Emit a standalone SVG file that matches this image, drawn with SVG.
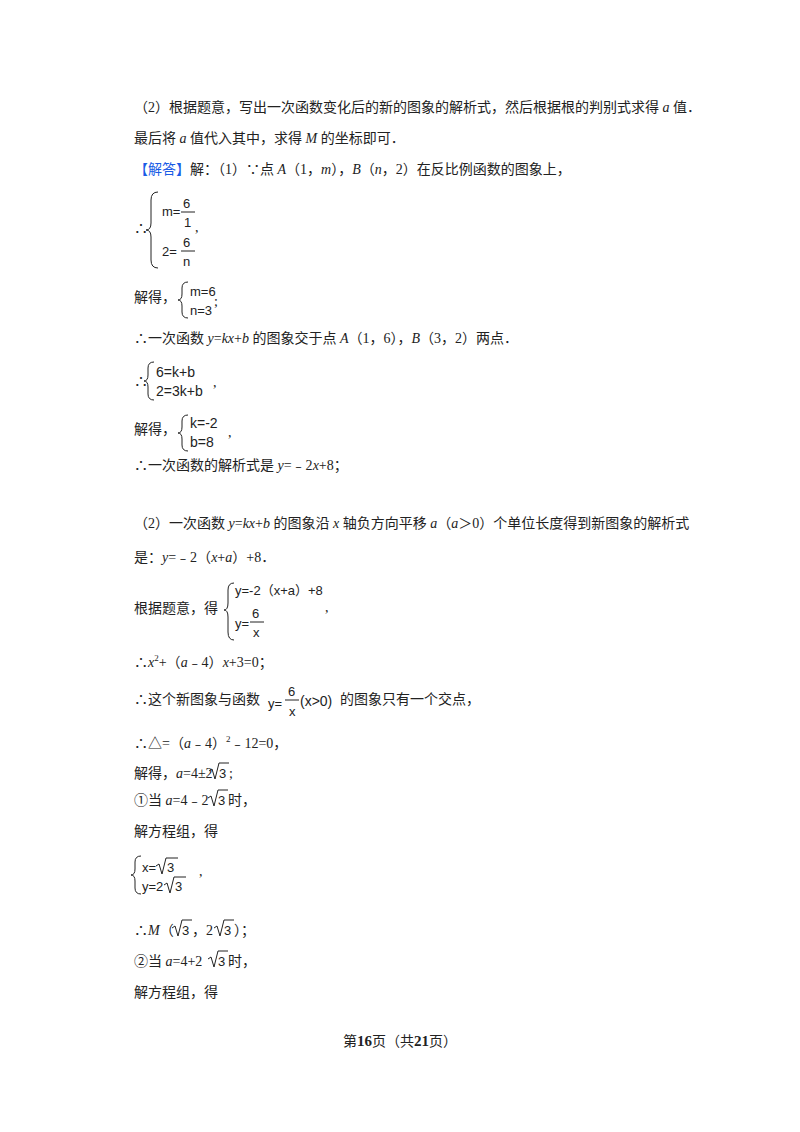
<svg xmlns="http://www.w3.org/2000/svg" width="800" height="1132" viewBox="0 0 800 1132">
<style>
text{font-family:"Liberation Serif","Noto Sans CJK SC",serif;font-size:14px;fill:#222}
.i{font-style:italic}
.m{font-family:"Liberation Sans","Noto Sans CJK SC",sans-serif;font-size:13px}
.m.L{font-size:14px}
.b{fill:#1a5ce6}
.br,.r{fill:none;stroke:#222;stroke-width:1}
</style>
<rect width="800" height="1132" fill="#fff"/>
<text x="134" y="112">（2）根据题意，写出一次函数变化后的新的图象的解析式，然后根据根的判别式求得 <tspan class="i">a</tspan> 值．</text>
<text x="134" y="143">最后将 <tspan class="i">a</tspan> 值代入其中，求得 <tspan class="i">M</tspan> 的坐标即可．</text>
<text x="134" y="174"><tspan class="b">【解答】</tspan>解：（1）∵点 <tspan class="i">A</tspan>（1，<tspan class="i">m</tspan>），<tspan class="i">B</tspan>（<tspan class="i">n</tspan>，2）在反比例函数的图象上，</text>
<g>
<text x="134" y="233">∴</text>
<path class="br" d="M158 192 Q151 192 151 200 L151 223 Q151 230 146 230 Q151 230 151 237 L151 260 Q151 268 158 268"/>
<text class="m" x="162" y="216">m=</text><text class="m" x="183" y="208">6</text><line x1="181" y1="212" x2="195" y2="212" stroke="#222"/><text class="m" x="184" y="227">1</text>
<text x="195" y="232">,</text>
<text class="m" x="162" y="256">2=</text><text class="m" x="183" y="247">6</text><line x1="181" y1="251" x2="195" y2="251" stroke="#222"/><text class="m" x="183" y="266">n</text>
</g>
<g>
<text x="134" y="302">解得，</text>
<path class="br" d="M188 282 Q182 282 182 288 L182 294 Q182 300 178 300 Q182 300 182 306 L182 312 Q182 318 188 318"/>
<text class="m" x="190" y="296">m=6</text><text class="m" x="190" y="315">n=3</text><text x="214" y="306">;</text>
</g>
<text x="134" y="343">∴一次函数 <tspan class="i">y</tspan>=<tspan class="i">kx</tspan>+<tspan class="i">b</tspan> 的图象交于点 <tspan class="i">A</tspan>（1，6），<tspan class="i">B</tspan>（3，2）两点．</text>
<g>
<text x="134" y="386">∴</text>
<path class="br" d="M154 362 Q148 362 148 368 L148 375 Q148 381 144 381 Q148 381 148 387 L148 394 Q148 400 154 400"/>
<text class="m L" x="156" y="377">6=k+b</text><text class="m L" x="156" y="396">2=3k+b</text><text x="213" y="387">,</text>
</g>
<g>
<text x="134" y="434">解得，</text>
<path class="br" d="M188 415 Q182 415 182 421 L182 427 Q182 433 178 433 Q182 433 182 439 L182 445 Q182 451 188 451"/>
<text class="m L" x="190" y="428">k=-2</text><text class="m L" x="190" y="447">b=8</text><text x="228" y="437">,</text>
</g>
<text x="134" y="470">∴一次函数的解析式是 <tspan class="i">y</tspan>=﹣2<tspan class="i">x</tspan>+8；</text>
<text x="134" y="528">（2）一次函数 <tspan class="i">y</tspan>=<tspan class="i">kx</tspan>+<tspan class="i">b</tspan> 的图象沿 <tspan class="i">x</tspan> 轴负方向平移 <tspan class="i">a</tspan>（<tspan class="i">a</tspan>＞0）个单位长度得到新图象的解析式</text>
<text x="134" y="562">是：<tspan class="i">y</tspan>=﹣2（<tspan class="i">x</tspan>+<tspan class="i">a</tspan>）+8．</text>
<g>
<text x="134" y="613">根据题意，得</text>
<path class="br" d="M234 583 Q228 583 228 590 L228 603 Q228 610 224 610 Q228 610 228 617 L228 632 Q228 640 234 640"/>
<text class="m" x="235" y="595">y=-2（x+a）+8</text>
<text class="m" x="235" y="628">y=</text><text class="m" x="252" y="618">6</text><line x1="250" y1="622" x2="264" y2="622" stroke="#222"/><text class="m" x="253" y="637">x</text>
<text x="325" y="612">,</text>
</g>
<text x="134" y="667">∴<tspan class="i">x</tspan><tspan font-size="9" dy="-6">2</tspan><tspan dy="6">+（<tspan class="i">a</tspan>﹣4）<tspan class="i">x</tspan>+3=0；</tspan></text>
<g>
<text x="134" y="704">∴这个新图象与函数</text>
<text class="m" x="268" y="708">y=</text><text class="m" x="288" y="696">6</text><line x1="285" y1="700" x2="299" y2="700" stroke="#222"/><text class="m" x="289" y="716">x</text>
<text class="m L" x="300" y="706">(x&gt;0)</text>
<text x="340" y="704">的图象只有一个交点，</text>
</g>
<text x="134" y="748">∴△=（<tspan class="i">a</tspan>﹣4）<tspan font-size="9" dy="-6">2</tspan><tspan dy="6">﹣12=0，</tspan></text>
<text x="134" y="778">解得，<tspan class="i">a</tspan>=4±2</text>
<path class="r" d="M209 771 L212 769 L215 779 L219 763 L229 763"/><text class="m" x="219" y="778">3</text><text x="229" y="778">;</text>
<text x="134" y="805">①当 <tspan class="i">a</tspan>=4﹣2</text>
<path class="r" d="M208 798 L211 796 L214 806 L218 790 L228 790"/><text class="m" x="218" y="805">3</text><text x="228" y="805">时，</text>
<text x="134" y="836">解方程组，得</text>
<g>
<path class="br" d="M141 856 Q135 856 135 862 L135 869 Q135 875 131 875 Q135 875 135 881 L135 888 Q135 894 141 894"/>
<text class="m" x="142" y="872">x=</text><path class="r" d="M156 866 L159 864 L162 874 L166 858 L178 858"/><text class="m" x="167" y="872">3</text>
<text x="199" y="876">,</text>
<text class="m" x="142" y="891">y=2</text><path class="r" d="M164 885 L167 883 L170 893 L174 877 L186 877"/><text class="m" x="175" y="891">3</text>
</g>
<text x="134" y="935">∴<tspan class="i">M</tspan>（</text>
<path class="r" d="M172 928 L175 926 L178 936 L182 920 L192 920"/><text class="m" x="182" y="935">3</text>
<text x="192" y="935">，2</text>
<path class="r" d="M214 928 L217 926 L220 936 L224 920 L234 920"/><text class="m" x="224" y="935">3</text>
<text x="234" y="935">）；</text>
<text x="134" y="966">②当 <tspan class="i">a</tspan>=4+2</text>
<path class="r" d="M208 959 L211 957 L214 967 L218 951 L228 951"/><text class="m" x="218" y="966">3</text><text x="228" y="966">时，</text>
<text x="134" y="997">解方程组，得</text>
<text x="400" y="1046" text-anchor="middle" font-size="13">第<tspan font-weight="bold" font-size="15">16</tspan>页（共<tspan font-weight="bold" font-size="15">21</tspan>页）</text>
</svg>
